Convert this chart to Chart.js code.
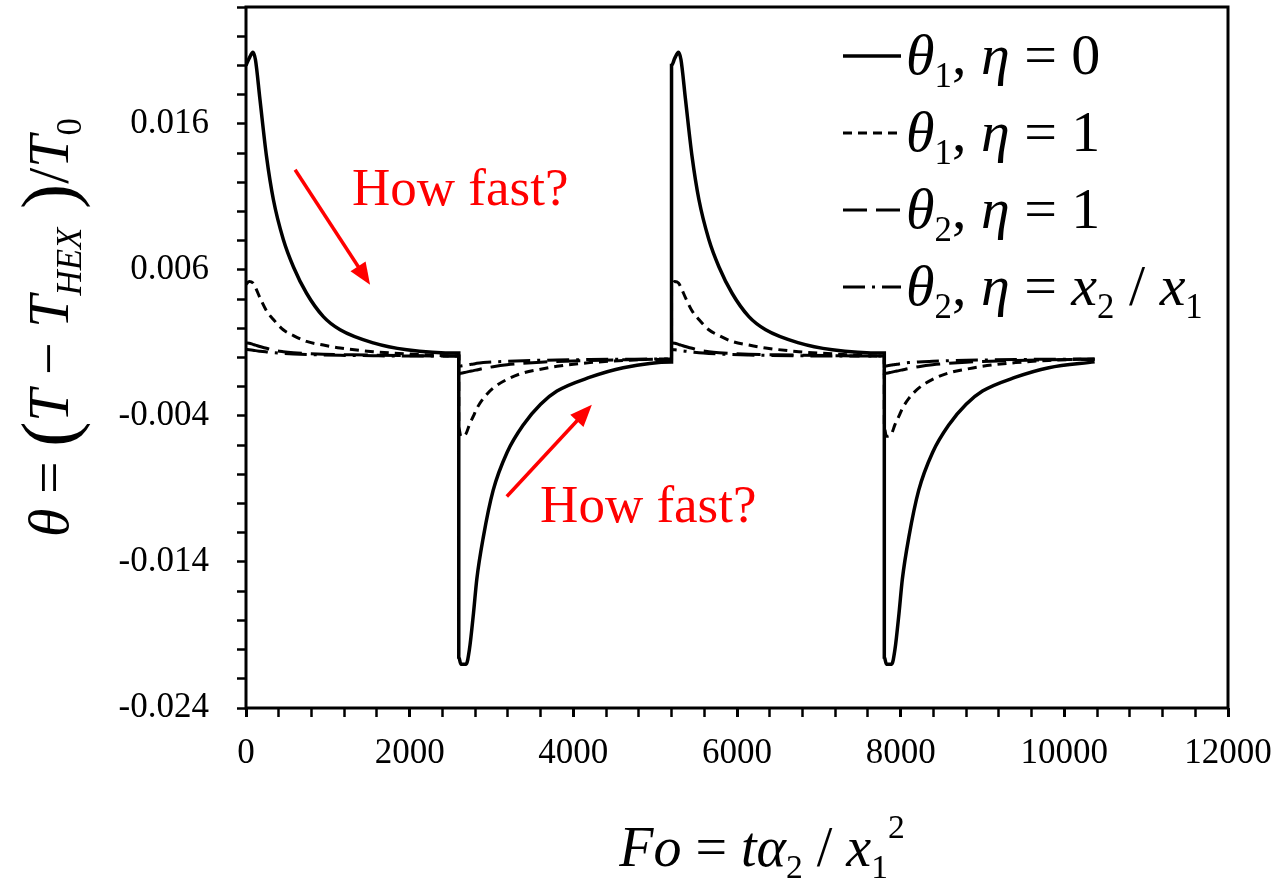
<!DOCTYPE html>
<html>
<head>
<meta charset="utf-8">
<script src="https://cdn.jsdelivr.net/npm/chart.js@4.4.0/dist/chart.umd.min.js"></script>
<style>
  html, body { margin: 0; padding: 0; background: #fff; }
  #wrap { width: 1279px; height: 878px; }
</style>
</head>
<body>
<div id="wrap"><canvas id="grafico" width="1279" height="878"></canvas></div>
<script>
// Fo (eje x), mismo muestreo para las cuatro curvas
const fo = [
  0, 40, 85, 115, 170, 250, 335, 455, 580, 740, 945, 1150, 1555, 1965, 2600,
  2600, 2625, 2690, 2730, 2780, 2820, 2900, 3020, 3190, 3390, 3600, 3800, 4205, 4610, 5200,
  5200, 5240, 5285, 5315, 5370, 5450, 5535, 5655, 5780, 5940, 6145, 6350, 6755, 7165, 7800,
  7800, 7825, 7890, 7930, 7980, 8020, 8100, 8220, 8390, 8590, 8800, 9000, 9405, 9810, 10370
];

// theta1, eta = 0 (linea continua)
const theta1Eta0 = [
  0.0200, 0.0205, 0.0209, 0.0204, 0.0177, 0.0138, 0.0108, 0.0081, 0.0062, 0.0044, 0.0028, 0.0019, 0.0010, 0.00053, 0.0003,
  -0.0205, -0.0210, -0.0210, -0.0200, -0.0175, -0.0152, -0.0123, -0.0091, -0.0065, -0.0046, -0.0032, -0.0023, -0.00135, -0.0007, -0.0003,
  0.0200, 0.0205, 0.0209, 0.0204, 0.0177, 0.0138, 0.0108, 0.0081, 0.0062, 0.0044, 0.0028, 0.0019, 0.0010, 0.00053, 0.0003,
  -0.0205, -0.0210, -0.0210, -0.0200, -0.0175, -0.0152, -0.0123, -0.0091, -0.0065, -0.0046, -0.0032, -0.0023, -0.00135, -0.0007, -0.0003
];

// theta1, eta = 1 (guion corto)
const theta1Eta1 = [
  0.0050, 0.0052, 0.0051, 0.0048, 0.0041, 0.0032, 0.0026, 0.0019, 0.0015, 0.0011, 0.00085, 0.00065, 0.0004, 0.00025, 0.0001,
  -0.0048, -0.0054, -0.0052, -0.0046, -0.0040, -0.0035, -0.0028, -0.0021, -0.0015, -0.00105, -0.0008, -0.0006, -0.00035, -0.0002, -0.0001,
  0.0050, 0.0052, 0.0051, 0.0048, 0.0041, 0.0032, 0.0026, 0.0019, 0.0015, 0.0011, 0.00085, 0.00065, 0.0004, 0.00025, 0.0001,
  -0.0048, -0.0054, -0.0052, -0.0046, -0.0040, -0.0035, -0.0028, -0.0021, -0.0015, -0.00105, -0.0008, -0.0006, -0.00035, -0.0002, -0.0001
];

// theta2, eta = 1 (guion largo)
const theta2Eta1 = [
  0.0010, 0.00098, 0.0009, 0.00085, 0.00075, 0.00063, 0.0005, 0.0004, 0.00033, 0.00027, 0.00022, 0.0002, 0.00016, 0.00013, 0.0001,
  -0.0011, -0.00108, -0.0010, -0.00095, -0.0009, -0.00085, -0.00075, -0.00063, -0.0005, -0.0004, -0.00032, -0.00027, -0.0002, -0.00016, -0.00013,
  0.0010, 0.00098, 0.0009, 0.00085, 0.00075, 0.00063, 0.0005, 0.0004, 0.00033, 0.00027, 0.00022, 0.0002, 0.00016, 0.00013, 0.0001,
  -0.0011, -0.00108, -0.0010, -0.00095, -0.0009, -0.00085, -0.00075, -0.00063, -0.0005, -0.0004, -0.00032, -0.00027, -0.0002, -0.00016, -0.00013
];

// theta2, eta = x2/x1 (guion-punto)
const theta2EtaX = [
  0.00055, 0.00053, 0.0005, 0.00047, 0.00043, 0.00038, 0.00033, 0.00028, 0.00024, 0.0002, 0.00017, 0.00015, 0.00012, 0.0001, 0.0001,
  -0.0006, -0.00058, -0.00052, -0.00048, -0.00044, -0.0004, -0.00035, -0.0003, -0.00026, -0.00022, -0.00019, -0.00017, -0.00014, -0.00012, -0.0001,
  0.00055, 0.00053, 0.0005, 0.00047, 0.00043, 0.00038, 0.00033, 0.00028, 0.00024, 0.0002, 0.00017, 0.00015, 0.00012, 0.0001, 0.0001,
  -0.0006, -0.00058, -0.00052, -0.00048, -0.00044, -0.0004, -0.00035, -0.0003, -0.00026, -0.00022, -0.00019, -0.00017, -0.00014, -0.00012, -0.0001
];

// etiquetas de los ejes
const xLabels = [0, 2000, 4000, 6000, 8000, 10000, 12000];
const yLabels = [-0.024, -0.014, -0.004, 0.006, 0.016];
const xMinor = 400;
const yMinor = 0.002;

// leyenda: [texto, estilo]  i = cursiva, _ = subindice, ^ = superindice, ( = parentesis grande
const leyendas = [
  [["θ", "i"], ["1", "_"], [", ", ""], ["η", "i"], [" = 0", ""]],
  [["θ", "i"], ["1", "_"], [", ", ""], ["η", "i"], [" = 1", ""]],
  [["θ", "i"], ["2", "_"], [", ", ""], ["η", "i"], [" = 1", ""]],
  [["θ", "i"], ["2", "_"], [", ", ""], ["η", "i"], [" = ", ""], ["x", "i"], ["2", "_"], [" / ", ""], ["x", "i"], ["1", "_"]]
];
const tituloY = [["θ", "i"], [" = ", ""], ["(", "("], ["T", "i"], [" − ", ""], ["T", "i"], ["HEX", "i_"], [" )", "("], ["/", ""], ["T", "i"], ["0", "_"]];
const tituloX = [["Fo", "i"], [" = ", ""], ["tα", "i"], ["2", "_"], [" / ", ""], ["x", "i"], ["1", "_"], ["2", "^"]];

// anotaciones en rojo (coordenadas de datos)
const flechas = [
  { desde: [600, 0.01286], hasta: [1516, 0.00498] },
  { desde: [3187, -0.00952], hasta: [4226, -0.00324] }
];
const notas = [
  { texto: "How fast?", pos: [1296, 0.01047] },
  { texto: "How fast?", pos: [3594, -0.01126] }
];

const FUENTE = '"Liberation Serif", "Times New Roman", serif';

function fuente(size, italic) {
  return (italic ? "italic " : "") + size + "px " + FUENTE;
}

// texto con sub/superindices
function parteInfo(p, size) {
  const st = p[1];
  let sz = size, dy = 0;
  if (st.includes("_")) { sz = size * 0.6; dy = size * 0.22; }
  if (st.includes("^")) { sz = size * 0.6; dy = -size * 0.5; }
  if (st.includes("(")) { sz = size * 1.3; dy = size * 0.1; }
  return { sz, dy, it: st.includes("i") };
}

function anchoRico(ctx, parts, size) {
  let w = 0;
  parts.forEach((p) => {
    const inf = parteInfo(p, size);
    ctx.font = fuente(inf.sz, inf.it);
    w += ctx.measureText(p[0]).width;
  });
  return w;
}

function dibujarRico(ctx, parts, x, y, size) {
  let cx = x;
  ctx.textAlign = "left";
  ctx.textBaseline = "alphabetic";
  parts.forEach((p) => {
    const inf = parteInfo(p, size);
    ctx.font = fuente(inf.sz, inf.it);
    ctx.fillText(p[0], cx, y + inf.dy);
    cx += ctx.measureText(p[0]).width;
  });
  return cx - x;
}

const estilos = [
  { dash: [], width: 3.5 },
  { dash: [9, 6], width: 3 },
  { dash: [24, 9], width: 3 },
  { dash: [22, 7, 3, 7], width: 3 }
];

const extras = {
  id: "extras",
  afterDatasetsDraw(chart) {
    const ctx = chart.ctx;
    const a = chart.chartArea;
    const xs = chart.scales.x;
    const ys = chart.scales.y;

    ctx.save();
    // marco
    ctx.strokeStyle = "#000";
    ctx.lineWidth = 3;
    ctx.strokeRect(a.left, a.top, a.right - a.left, a.bottom - a.top);

    // leyenda
    ctx.fillStyle = "#000";
    leyendas.forEach((parts, i) => {
      const yc = a.top + 49 + i * 77;
      const ds = chart.data.datasets[i];
      ctx.beginPath();
      ctx.setLineDash(ds.borderDash || []);
      ctx.lineWidth = ds.borderWidth;
      ctx.moveTo(a.left + 597, yc);
      ctx.lineTo(a.left + 655, yc);
      ctx.stroke();
      ctx.setLineDash([]);
      dibujarRico(ctx, parts, a.left + 660, yc + 18, 58);
    });

    // flechas rojas
    ctx.strokeStyle = "#ff0000";
    ctx.fillStyle = "#ff0000";
    flechas.forEach((f) => {
      const x0 = xs.getPixelForValue(f.desde[0]);
      const y0 = ys.getPixelForValue(f.desde[1]);
      const x1 = xs.getPixelForValue(f.hasta[0]);
      const y1 = ys.getPixelForValue(f.hasta[1]);
      const ang = Math.atan2(y1 - y0, x1 - x0);
      const L = 22, W = 9;
      ctx.lineWidth = 3.5;
      ctx.beginPath();
      ctx.moveTo(x0, y0);
      ctx.lineTo(x1 - Math.cos(ang) * L * 0.8, y1 - Math.sin(ang) * L * 0.8);
      ctx.stroke();
      ctx.beginPath();
      ctx.moveTo(x1, y1);
      ctx.lineTo(x1 - Math.cos(ang) * L - Math.sin(ang) * W, y1 - Math.sin(ang) * L + Math.cos(ang) * W);
      ctx.lineTo(x1 - Math.cos(ang) * L + Math.sin(ang) * W, y1 - Math.sin(ang) * L - Math.cos(ang) * W);
      ctx.closePath();
      ctx.fill();
    });
    ctx.font = fuente(53, false);
    ctx.textAlign = "left";
    ctx.textBaseline = "alphabetic";
    notas.forEach((n) => {
      ctx.fillText(n.texto, xs.getPixelForValue(n.pos[0]), ys.getPixelForValue(n.pos[1]));
    });

    // titulos de ejes
    ctx.fillStyle = "#000";
    const wx = anchoRico(ctx, tituloX, 56);
    dibujarRico(ctx, tituloX, (a.left + a.right) / 2 - wx / 2 + 25, 866, 56);

    ctx.translate(68, (a.top + a.bottom) / 2 - 30);
    ctx.rotate(-Math.PI / 2);
    const wy = anchoRico(ctx, tituloY, 58);
    dibujarRico(ctx, tituloY, -wy / 2, 0, 58);
    ctx.restore();
  }
};

const series = [theta1Eta0, theta1Eta1, theta2Eta1, theta2EtaX];
const nombres = ["θ1, η = 0", "θ1, η = 1", "θ2, η = 1", "θ2, η = x2 / x1"];

new Chart(document.getElementById("grafico"), {
  type: "line",
  data: {
    datasets: series.map((s, i) => ({
      label: nombres[i],
      data: fo.map((x, j) => ({ x: x, y: s[j] })),
      borderColor: "#000",
      borderWidth: estilos[i].width,
      borderDash: estilos[i].dash,
      pointRadius: 0,
      fill: false,
      cubicInterpolationMode: "monotone"
    }))
  },
  options: {
    responsive: false,
    animation: false,
    devicePixelRatio: 1,
    layout: { padding: { top: 7, right: 51, left: 0, bottom: 0 } },
    plugins: { legend: { display: false }, tooltip: { enabled: false } },
    scales: {
      x: {
        type: "linear",
        min: 0,
        max: 12000,
        border: { display: false },
        grid: {
          drawOnChartArea: false,
          drawTicks: true,
          tickLength: 9,
          tickWidth: (c) => (c.tick && xLabels.includes(c.tick.value) ? 3 : 2.5),
          tickColor: "#000"
        },
        afterBuildTicks: (scale) => {
          const t = [];
          for (let v = 0; v <= 12000; v += xMinor) t.push({ value: v });
          scale.ticks = t;
        },
        afterFit: (scale) => {
          scale.height = 170;
          scale.paddingLeft = 0;
          scale.paddingRight = 0;
        },
        ticks: {
          autoSkip: false,
          maxRotation: 0,
          color: "#000",
          padding: 16,
          font: { family: FUENTE, size: 35 },
          callback: (v) => (xLabels.includes(v) ? String(v) : "")
        }
      },
      y: {
        type: "linear",
        min: -0.024,
        max: 0.024,
        border: { display: false },
        grid: { drawOnChartArea: false, drawTicks: true, tickLength: 9, tickWidth: 2.5, tickColor: "#000" },
        afterBuildTicks: (scale) => {
          const t = [];
          for (let k = -12; k <= 12; k++) t.push({ value: Math.round(k * yMinor * 1000) / 1000 });
          scale.ticks = t;
        },
        afterFit: (scale) => {
          scale.width = 246;
          scale.paddingTop = 0;
          scale.paddingBottom = 0;
        },
        ticks: {
          autoSkip: false,
          color: "#000",
          padding: 28,
          font: { family: FUENTE, size: 35 },
          callback: (v) => {
            const r = Math.round(v * 1000) / 1000;
            return yLabels.some((l) => Math.abs(l - r) < 1e-9) ? r.toFixed(3) : "";
          }
        }
      }
    }
  },
  plugins: [extras]
});
</script>
</body>
</html>
